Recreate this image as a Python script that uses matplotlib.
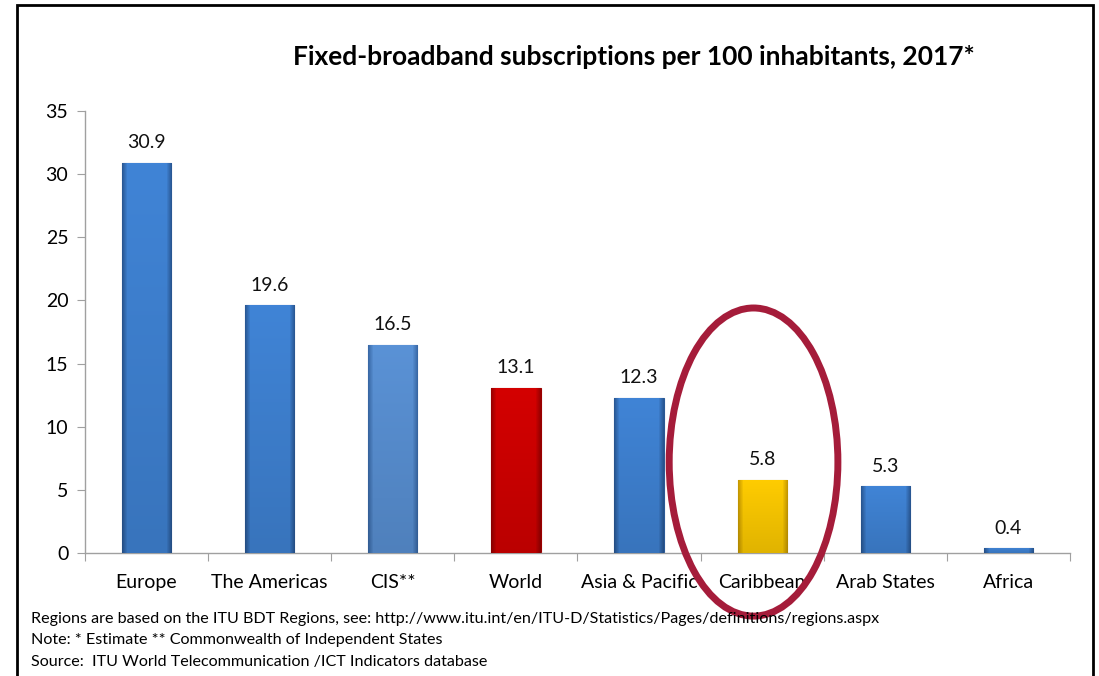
import numpy as np
import matplotlib
matplotlib.use("Agg")
import matplotlib.pyplot as plt
from matplotlib.patches import Ellipse, Rectangle
from matplotlib.colors import LinearSegmentedColormap

# data
regions = ["Europe", "The Americas", "CIS**", "World", "Asia & Pacific",
           "Caribbean", "Arab States", "Africa"]
values = [30.9, 19.6, 16.5, 13.1, 12.3, 5.8, 5.3, 0.4]
bar_colors = [("#4084d6", "#2a5996"), ("#4084d6", "#2a5996"), ("#5a92d6", "#3a6aa8"),
              ("#d40000", "#9a0000"), ("#4084d6", "#2a5996"), ("#ffcc00", "#c89a00"),
              ("#4084d6", "#2a5996"), ("#4084d6", "#2a5996")]
yticks = [0, 5, 10, 15, 20, 25, 30, 35]

title = "Fixed-broadband subscriptions per 100 inhabitants, 2017*"
notes = ["Regions are based on the ITU BDT Regions, see: http://www.itu.int/en/ITU-D/Statistics/Pages/definitions/regions.aspx",
         "Note: * Estimate ** Commonwealth of Independent States",
         "Source:  ITU World Telecommunication /ICT Indicators database"]

plt.rcParams['font.family'] = ['Lato', 'DejaVu Sans']

fig = plt.figure(figsize=(10.99, 6.76), dpi=100)
ax = fig.add_axes([0.0773, 0.182, 0.8963, 0.6538])

x = np.arange(len(regions))
bw = 0.4
ax.set_xlim(-0.5, len(regions) - 0.5)
ax.set_ylim(0, 35)

for xi, v, (c1, c2) in zip(x, values, bar_colors):
    bar = ax.bar(xi, v, width=bw, color=c2, edgecolor=c2, linewidth=0.8, zorder=2)[0]
    # bevel-like shading: thin darker sides, flat center, a little darker at the bottom
    cmap = LinearSegmentedColormap.from_list("g", [(0, c2), (0.1, c1), (0.9, c1), (1, c2)])
    h = np.linspace(0, 1, 50)
    vert = np.linspace(0.88, 1.0, 60)[:, None, None]
    img = cmap(np.tile(h, (60, 1)))
    img[..., :3] = img[..., :3] * vert
    im = ax.imshow(img, extent=(xi - bw / 2, xi + bw / 2, 0, v), aspect="auto",
                   origin="lower", zorder=3, interpolation="bilinear")
    im.set_clip_path(bar)
    ax.text(xi, v + 0.9, f"{v}", ha="center", va="bottom", fontsize=14, color="#111111", zorder=4)

ax.set_xticks(np.arange(len(regions) + 1) - 0.5, minor=False)
ax.set_xticklabels([])
ax.set_xticks(x, minor=True)
ax.set_xticklabels(regions, minor=True, fontsize=14)
ax.tick_params(axis="x", which="major", length=6, color="#a0a0a0", direction="out")
ax.tick_params(axis="x", which="minor", length=0, pad=15)
ax.set_yticks(yticks)
ax.tick_params(axis="y", length=6, color="#a0a0a0", labelsize=14, pad=6)

for s in ["top", "right"]:
    ax.spines[s].set_visible(False)
for s in ["left", "bottom"]:
    ax.spines[s].set_color("#a0a0a0")
    ax.spines[s].set_linewidth(1.0)

# circle around Caribbean
ell = Ellipse((4.93, 7.2), width=1.37, height=24.4, fill=False, edgecolor="#a51c3a",
              linewidth=5, clip_on=False, zorder=5)
ax.add_patch(ell)

fig.text(0.577, 0.915, title, ha="center", va="center", fontsize=19, fontweight="bold")

for i, n in enumerate(notes):
    fig.text(0.028, 0.085 - i * 0.032, n, ha="left", va="center", fontsize=11.6)

fig.patches.append(Rectangle((0.0155, -0.05), 0.979, 1.043, transform=fig.transFigure,
                             fill=False, edgecolor="black", linewidth=2))

fig.savefig("out.png", dpi=100)
